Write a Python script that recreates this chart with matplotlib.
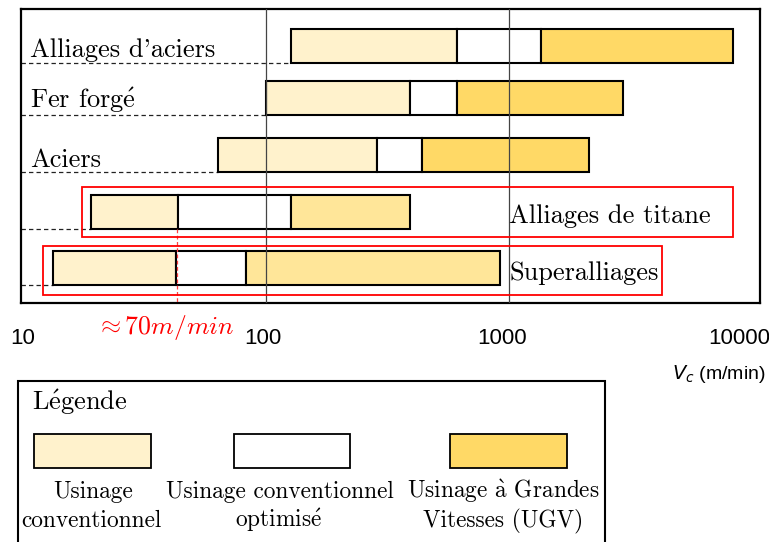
import matplotlib
matplotlib.use("Agg")
import matplotlib.pyplot as plt
from matplotlib.patches import Rectangle
import matplotlib.transforms as mtransforms

plt.rcParams['mathtext.fontset'] = 'cm'

# ---------------- data ----------------
materials = ["Alliages d'aciers", "Fer forg$\\mathrm{\\acute{e}}$", "Aciers",
             "Alliages de titane", "Superalliages"]
conv_start = [126.7, 100, 63.9, 19.1, 13.3]     # start of conventional machining
conv_opt_start = [613, 392, 287, 43.5, 42.7]     # start of optimised conventional
ugv_start = [1350, 613, 440, 126.6, 83]          # start of UGV
ugv_end = [8310, 2950, 2126, 392, 918]           # end of UGV
ref_speed = 43.1
ref_label = r'$\approx 70m/min$'
tick_values = [10, 100, 1000, 10000]
tick_labels = ["10", "100", "1000", "10000"]
legend_labels = [("Usinage", "conventionnel"),
                 ("Usinage conventionnel", "optimis$\\mathrm{\\acute{e}}$"),
                 ("Usinage $\\mathrm{\\grave{a}}$ Grandes", "Vitesses (UGV)")]

# ---------------- style ----------------
c_light = "#FFF2CC"
c_white = "#FFFFFF"
c_gold = "#FFD966"
c_gold2 = "#FFE699"
serif = ['cmr10', 'DejaVu Serif']
sans = ['Liberation Sans', 'DejaVu Sans']

W, H = 769, 542
fig = plt.figure(figsize=(W / 100, H / 100), dpi=100)

# main axes in pixel layout
ax_l, ax_r, ax_t, ax_b = 21, 760, 9, 303.3
ax = fig.add_axes([ax_l / W, 1 - ax_b / H, (ax_r - ax_l) / W, (ax_b - ax_t) / H])
ax.set_xscale('log')
ax.set_xlim(9.87, 10756)
ax.set_ylim(ax_b - ax_t, 0)

row_y = [37.3, 89.2, 146.3, 203, 259.3]
bar_h = 34
lw_bar = 1.5

for i in range(len(materials)):
    gold = c_gold if i < 3 else c_gold2
    segs = [(conv_start[i], conv_opt_start[i], c_light),
            (conv_opt_start[i], ugv_start[i], c_white),
            (ugv_start[i], ugv_end[i], gold)]
    for a, b, col in segs:
        ax.barh(row_y[i], b - a, left=a, height=bar_h, color=col,
                edgecolor='black', linewidth=lw_bar, zorder=2)
    # dashed guide line from left edge to bar start at bar bottom
    ax.plot([ax.get_xlim()[0], conv_start[i]], [row_y[i] + bar_h / 2] * 2,
            color='#222222', lw=0.9, ls=(0, (3.5, 2.5)), zorder=1)

# vertical reference lines at 100 and 1000
for v in [100, 1000]:
    ax.axvline(v, color='#444444', lw=0.9, zorder=3)

# red dashed vertical line
ax.plot([ref_speed, ref_speed], [row_y[3] + bar_h / 2, ax_b - ax_t],
        color='#FF4040', lw=0.9, ls=(0, (3, 2)), zorder=4)

# red frames around the two last rows
ax.add_patch(Rectangle((17.6, 178.3), 8310 - 17.6, 49.4, fill=False,
                       edgecolor='#FF0000', lw=1.3, zorder=5))
ax.add_patch(Rectangle((12.19, 237), 4255 - 12.19, 49.3, fill=False,
                       edgecolor='#FF0000', lw=1.3, zorder=5))

# material labels
trans_lbl = mtransforms.blended_transform_factory(ax.transAxes, ax.transData)
lab_fs = 19
base_off = [10.7, 10.0, 11.7, 11.0, 11.7]
for i in range(3):
    ax.text(0.0122, row_y[i] + base_off[i], materials[i], transform=trans_lbl,
            family=serif, fontsize=lab_fs, va='baseline', ha='left', zorder=6)
for i in range(3, 5):
    ax.text(1002, row_y[i] + base_off[i], materials[i],
            family=serif, fontsize=lab_fs, va='baseline', ha='left', zorder=6)

# spines
for s in ax.spines.values():
    s.set_linewidth(1.6)
    s.set_color('black')

# ticks
ax.set_yticks([])
ax.set_xticks(tick_values)
ax.set_xticklabels(tick_labels, family=sans, fontsize=16)
ax.xaxis.set_minor_locator(matplotlib.ticker.NullLocator())
ax.tick_params(axis='x', length=0, pad=17.5)
offsets = [0, -3, -7, -13]
for lbl, dx in zip(ax.get_xticklabels(), offsets):
    lbl.set_transform(lbl.get_transform() +
                      mtransforms.ScaledTranslation(dx / 100, 0, fig.dpi_scale_trans))

# red approx label (figure pixel placement below the axis)
fig.text(165 / W, 1 - 334 / H, ref_label, color='#FF0000', fontsize=18.5,
         ha='center', va='baseline')

# axis label
fig.text(766 / W, 1 - 379 / H, r'$V_c$ (m/min)', family=sans, fontsize=14,
         ha='right', va='baseline', math_fontfamily='dejavusans')

# ---------------- legend panel ----------------
lg = fig.add_axes([0, 0, 1, 1], zorder=-1)
lg.set_xlim(0, W)
lg.set_ylim(H, 0)
lg.axis('off')
lg.plot([17.7, 17.7, 605, 605], [545, 381, 381, 545], color='black', lw=1.5,
        solid_joinstyle='miter')
lg.text(32, 410, "L$\\mathrm{\\acute{e}}$gende", family=serif, fontsize=19,
        va='baseline', ha='left')
patch_x = [(34, 150.7), (234, 350), (450, 566.7)]
patch_c = [c_light, c_white, c_gold]
line_centers = [(93, 91), (280, 278), (503, 503)]
for (x0, x1), col, (t1, t2), (c1, c2) in zip(patch_x, patch_c, legend_labels, line_centers):
    lg.add_patch(Rectangle((x0, 434.3), x1 - x0, 34, facecolor=col,
                           edgecolor='black', lw=1.3))
    lg.text(c1, 498, t1, family=serif, fontsize=16.8, ha='center', va='baseline')
    lg.text(c2, 527, t2, family=serif, fontsize=16.8, ha='center', va='baseline')

fig.savefig('out.png', dpi=100)
